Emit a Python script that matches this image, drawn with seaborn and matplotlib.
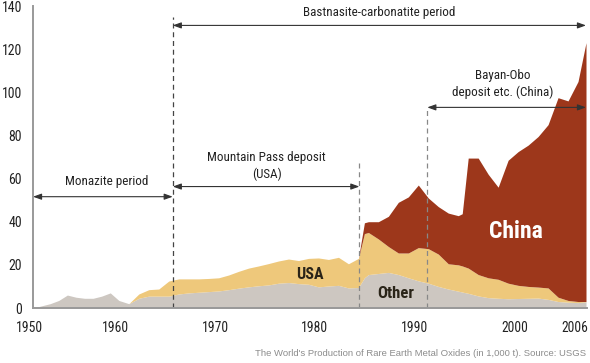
import numpy as np
import pandas as pd
import matplotlib
matplotlib.use("Agg")
import matplotlib.pyplot as plt
import matplotlib.transforms as mtransforms
from matplotlib import font_manager
import seaborn as sns

# production of rare earth oxides, 1,000 t
years = [1950, 1951, 1952, 1953, 1954, 1955, 1956, 1957, 1958, 1959,
         1960, 1961, 1962, 1963, 1964, 1965, 1966, 1967, 1968, 1969,
         1970, 1971, 1972, 1973, 1974, 1975, 1976, 1977, 1978, 1979,
         1980, 1981, 1982, 1983, 1984, 1984.6,
         1985, 1986, 1987, 1988, 1989, 1990, 1991, 1992, 1993, 1994, 1994.4,
         1995, 1996, 1997, 1998, 1999, 2000, 2001, 2002, 2003, 2004, 2005, 2006,
         2006.8]
other = [0, 1, 2, 3.5, 6, 5, 4.5, 4.5, 5.5, 7,
         3.5, 2, 4.5, 5.5, 5.5, 5.5, 6.5, 7, 7.3, 7.6,
         7.9, 8.5, 9.2, 9.8, 10.3, 10.7, 11.5, 11.8, 11.3, 11,
         9.8, 10.2, 10.5, 9.3, 9.5, 14,
         15.5, 16, 16.5, 15.5, 14, 12.6, 11.5, 10, 8.8, 7.8, 7.4,
         6.8, 5.6, 4.8, 4.5, 4.3, 4.4, 4.5, 4.6, 4.0, 3.0, 2.7, 2.5,
         2.9]
usa = [0, 0, 0, 0, 0, 0, 0, 0, 0, 0,
       0, 0, 2, 3, 3.3, 7, 7, 6.5, 6.2, 6.1,
       6.1, 6.8, 7.8, 8.7, 9.2, 9.9, 10.3, 10.9, 10.7, 12,
       13.4, 12.3, 13, 11.2, 13.5, 20.5,
       19.5, 16, 12, 10, 11.5, 15.4, 16, 15, 11.7, 12.2, 12.1,
       11.7, 9.9, 9.2, 8.8, 7.2, 6.1, 5.5, 5.1, 5.3, 2.0, 0.8, 0.5,
       0.1]
china = [0] * 35 + [5,
         5, 8, 14, 23.5, 26, 29, 23.5, 22, 23.5, 22.8, 24.2,
         51, 54, 48, 42.7, 57, 62, 65.5, 69.8, 75.7, 92.5, 92.5, 102,
         120]

xticks = [1950, 1960, 1970, 1980, 1990, 2000, 2006]
yticks = [0, 20, 40, 60, 80, 100, 120, 140]

df = pd.DataFrame({"year": years, "Other": other, "USA": usa, "China": china})
colors = ["#cdc7c1", "#eec87b", "#9d371b"]


# the 1950s are drawn a bit narrower than the later decades
def squeeze(x):
    x = np.asarray(x, dtype=float)
    return np.where(x < 1960, 1960 + (x - 1960) * 0.86, x)


def unsqueeze(x):
    x = np.asarray(x, dtype=float)
    return np.where(x < 1960, 1960 + (x - 1960) / 0.86, x)


# pick the narrowest family that is actually installed
installed = {f.name for f in font_manager.fontManager.ttflist}
wanted = ["Roboto Condensed", "Liberation Sans Narrow", "DejaVu Sans Condensed",
          "Open Sans Condensed", "Roboto", "DejaVu Sans"]
narrow = [f for f in wanted if f in installed] or ["DejaVu Sans"]
cond = narrow[0] in ("Roboto Condensed", "Liberation Sans Narrow",
                     "DejaVu Sans Condensed", "Open Sans Condensed")
k = 1.0 if cond else 0.85

sns.set_style("white")
plt.rcParams["font.family"] = narrow + ["DejaVu Sans"]

fig = plt.figure(figsize=(5.9, 3.63), dpi=100)
ax = fig.add_axes([33 / 590, 1 - 308 / 363, 554 / 590, 302 / 363])

ax.stackplot(df["year"], df["Other"], df["USA"], df["China"],
             colors=colors, linewidth=0)

ax.set_xscale("function", functions=(squeeze, unsqueeze))
ax.set_xlim(1950, 2006.9)
ax.set_ylim(0, 140)
ax.set_xticks(xticks)
ax.set_yticks(yticks)
ax.tick_params(axis="y", direction="in", length=7, width=1, color="#999999",
               labelsize=10 * k, labelcolor="#222222", pad=8)
ax.tick_params(axis="x", direction="out", length=6, width=1, color="#999999",
               labelsize=9.8 * k, labelcolor="#222222", pad=3.5)
sns.despine(ax=ax)
for side in ["left", "bottom"]:
    ax.spines[side].set_color("#999999")
    ax.spines[side].set_linewidth(1.4)

# year labels sit a few pixels left of their ticks
shift = mtransforms.ScaledTranslation(-3.5 / 100, 0, fig.dpi_scale_trans)
for lab in ax.get_xticklabels():
    lab.set_transform(lab.get_transform() + shift)

# period markers
dash = (0, (4, 3))
ax.plot([1965.4, 1965.4], [0, 135], ls=dash, color="#444444", lw=0.9)
ax.plot([1984.1, 1984.1], [0, 67], ls=dash, color="#888888", lw=0.9)
ax.plot([1990.9, 1990.9], [0, 93], ls=dash, color="#888888", lw=0.9)

arrow = dict(arrowstyle="<|-|>,head_length=0.5,head_width=0.18",
             color="#333333", lw=0.8, shrinkA=0, shrinkB=0)
ax.annotate("", xy=(2006.8, 131), xytext=(1965.4, 131), arrowprops=arrow)
ax.annotate("", xy=(1965.4, 51.6), xytext=(1950, 51.6), arrowprops=arrow)
ax.annotate("", xy=(1984.1, 56.3), xytext=(1965.4, 56.3), arrowprops=arrow)
ax.annotate("", xy=(2006.8, 93), xytext=(1990.9, 93), arrowprops=arrow)

note = dict(ha="center", va="center", fontsize=9.4 * k, color="#222222")
ax.text(1986.1, 137, "Bastnasite-carbonatite period", **note)
ax.text(1958.6, 58.7, "Monazite period", **note)
ax.text(1974.8, 66, "Mountain Pass deposit\n(USA)", linespacing=1.35, **note)
ax.text(1998.5, 104, "Bayan-Obo\ndeposit etc. (China)", linespacing=1.35, **note)

ax.text(1979.1, 15.3, "USA", ha="center", va="center", fontsize=11.5 * k,
        fontweight="bold", color="#2a2418")
ax.text(1987.7, 6.7, "Other", ha="center", va="center", fontsize=12 * k,
        fontweight="bold", color="#2a2418")
ax.text(1999.8, 35.6, "China", ha="center", va="center", fontsize=17 * k,
        fontweight="bold", color="white")

fig.text(586 / 590, 1 - 353 / 363,
         "The World's Production of Rare Earth Metal Oxides (in 1,000 t). Source: USGS",
         ha="right", va="center", fontsize=6.8, color="#8c8c8c",
         family=["Liberation Sans", "DejaVu Sans"])

fig.savefig("out.png", dpi=100)
